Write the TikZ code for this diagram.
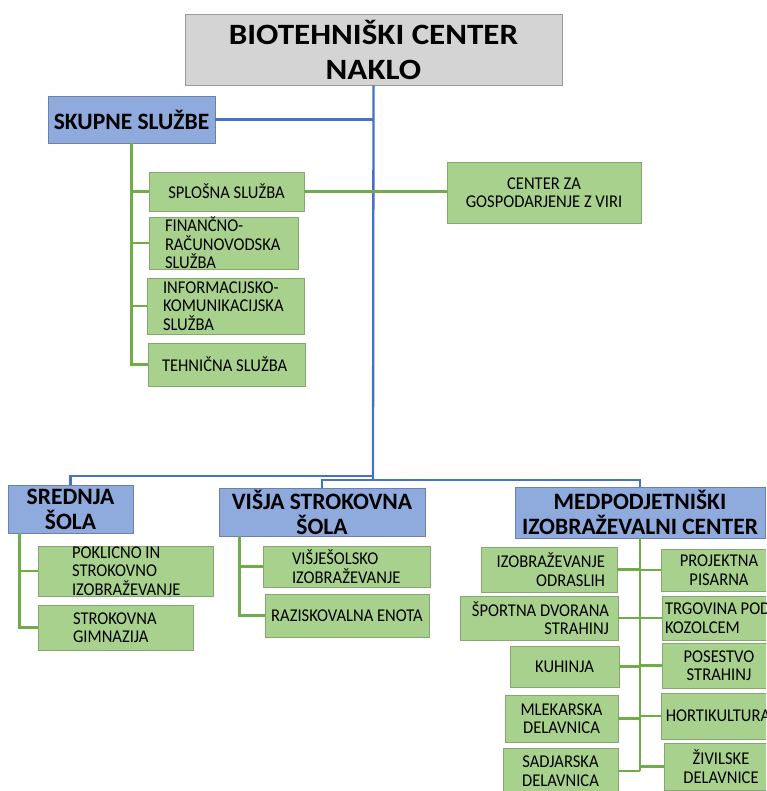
\documentclass[tikz,border=0pt]{standalone}
\usepackage{fontspec}
\setmainfont{Carlito}
\newfontfamily\titlefont{Carlito}[FakeStretch=1.12]
\newfontfamily\leaffont{Carlito}[FakeStretch=0.92]
\usepackage{tikz}
\usetikzlibrary{calc,positioning}

\definecolor{topfill}{HTML}{D4D4D4}
\definecolor{topedge}{HTML}{9A9A9A}
\definecolor{unitfill}{HTML}{8FAADC}
\definecolor{unitedge}{HTML}{6E80A8}
\definecolor{leaffill}{HTML}{A9D18E}
\definecolor{leafedge}{HTML}{86A672}
\definecolor{lineblue}{HTML}{4472C4}
\definecolor{linegreen}{HTML}{70AD47}

\tikzset{
    topbox/.style={draw=topedge, fill=topfill, line width=0.8pt, inner sep=0pt, align=center,
        font=\titlefont\bfseries\fontsize{29.5}{35}\selectfont},
    unitbox/.style={draw=unitedge, fill=unitfill, line width=0.8pt, inner sep=0pt, align=center,
        font=\bfseries\fontsize{23.5}{25}\selectfont},
    leafbox/.style={draw=leafedge, fill=leaffill, line width=0.8pt, inner sep=0pt, align=center,
        font=\leaffont\fontsize{18}{18.5}\selectfont},
    blueline/.style={draw=lineblue, line width=2.3pt},
    greenline/.style={draw=linegreen, line width=2.6pt}
}

\begin{document}
\begin{tikzpicture}[x=1pt, y=-1pt]
    \useasboundingbox (0,0) rectangle (766,791);
    \clip (0,0) rectangle (766,791);

    \node[topbox, minimum width=377, minimum height=71] (biotehniski) at (373.5,49.5) {BIOTEHNIŠKI CENTER\\NAKLO};

    \node[unitbox, minimum width=167, minimum height=47] (skupne) at (131.5,119.5) {SKUPNE SLUŽBE};
    \node[unitbox, minimum width=125, minimum height=48] (srednja) at (70.5,509) {SREDNJA\\ŠOLA};
    \node[unitbox, minimum width=206, minimum height=48] (visja) at (322,512) {VIŠJA STROKOVNA\\ŠOLA};
    \node[unitbox, minimum width=250, minimum height=51] (medpod) at (640,512.5) {MEDPODJETNIŠKI\\IZOBRAŽEVALNI CENTER};

    \node[leafbox, minimum width=155, minimum height=39] (splosna) at (226.5,191.5) {SPLOŠNA SLUŽBA};
    \node[leafbox, align=flush left, inner xsep=16, text width=117, minimum height=50] (financno) at (223.5,243) {FINANČNO-\\RAČUNOVODSKA\\SLUŽBA};
    \node[leafbox, align=flush left, inner xsep=16, text width=125, minimum height=56] (informacijsko) at (225.5,306) {INFORMACIJSKO-\\KOMUNIKACIJSKA\\SLUŽBA};
    \node[leafbox, align=flush left, inner xsep=14, text width=129, minimum height=43] (tehnicna) at (226.5,364.5) {TEHNIČNA SLUŽBA};
    \node[leafbox, minimum width=194, minimum height=61] (gospodarjenje) at (544,192.5) {CENTER ZA\\GOSPODARJENJE Z VIRI};

    \node[leafbox, align=flush left, inner xsep=34, text width=107, minimum height=50] (poklicno) at (125.5,571) {POKLICNO IN\\STROKOVNO\\IZOBRAŽEVANJE};
    \node[leafbox, align=flush left, inner xsep=35, text width=85, minimum height=45] (gimnazija) at (115.5,627.5) {STROKOVNA\\GIMNAZIJA};

    \node[leafbox, align=flush left, inner xsep=29, text width=109, minimum height=41] (visjesolsko) at (346.5,566.5) {VIŠJEŠOLSKO\\IZOBRAŽEVANJE};
    \node[leafbox, minimum width=164, minimum height=43] (raziskovalna) at (347,615.5) {RAZISKOVALNA ENOTA};

    \node[leafbox, align=flush right, inner xsep=12, text width=112, minimum height=45] (odraslih) at (549,569.5) {IZOBRAŽEVANJE\\ODRASLIH};
    \node[leafbox, align=flush right, inner xsep=9, text width=140, minimum height=44] (dvorana) at (539,618) {ŠPORTNA DVORANA\\STRAHINJ};
    \node[leafbox, minimum width=109, minimum height=41] (kuhinja) at (564.5,666.5) {KUHINJA};
    \node[leafbox, minimum width=113, minimum height=47] (mlekarska) at (561.5,718.5) {MLEKARSKA\\DELAVNICA};
    \node[leafbox, minimum width=115, minimum height=45] (sadjarska) at (560.5,771) {SADJARSKA\\DELAVNICA};

    \node[leafbox, minimum width=116, minimum height=42] (pisarna) at (719,570) {PROJEKTNA\\PISARNA};
    \node[leafbox, align=flush left, inner xsep=3, text width=108, minimum height=44] (trgovina) at (719,618) {TRGOVINA POD\\KOZOLCEM};
    \node[leafbox, minimum width=114, minimum height=45] (posestvo) at (719,665.5) {POSESTVO\\STRAHINJ};
    \node[leafbox, minimum width=114, minimum height=46] (hortikultura) at (718,716) {HORTIKULTURA};
    \node[leafbox, minimum width=114, minimum height=47] (zivilske) at (721,766.5) {ŽIVILSKE\\DELAVNICE};

    \coordinate (lowsplit) at (373,476);
    \coordinate (highsplit) at (373,480);
    \coordinate (srednjastem) at ($(srednja.south west)+(12,0)$);
    \coordinate (visjastem) at ($(visja.south west)+(21,0)$);

    \draw[blueline] (biotehniski.south) -- (highsplit);
    \draw[blueline] (skupne.east) -- (skupne.east -| biotehniski.south);
    \draw[blueline] (lowsplit) -| (srednja.north);
    \draw[blueline] (visja.north) |- (highsplit) -| (medpod.north);

    \draw[greenline] (skupne.south) |- (tehnicna.west);
    \foreach \leaf in {splosna, financno, informacijsko}
        \draw[greenline] (skupne.south |- \leaf.west) -- (\leaf.west);
    \draw[greenline] (splosna.east) -- (splosna.east -| gospodarjenje.west);

    \draw[greenline] (srednjastem) |- (gimnazija.west);
    \draw[greenline] (srednjastem |- poklicno.west) -- (poklicno.west);
    \draw[greenline] (visjastem) |- (raziskovalna.west);
    \draw[greenline] (visjastem |- visjesolsko.west) -- (visjesolsko.west);

    \draw[greenline] (medpod.south) -- (medpod.south |- sadjarska.east);
    \foreach \leaf in {odraslih, dvorana, kuhinja, mlekarska, sadjarska}
        \draw[greenline] (medpod.south |- \leaf.east) -- (\leaf.east);
    \foreach \leaf in {pisarna, trgovina, posestvo, hortikultura, zivilske}
        \draw[greenline] (medpod.south |- \leaf.west) -- (\leaf.west);
\end{tikzpicture}
\end{document}
